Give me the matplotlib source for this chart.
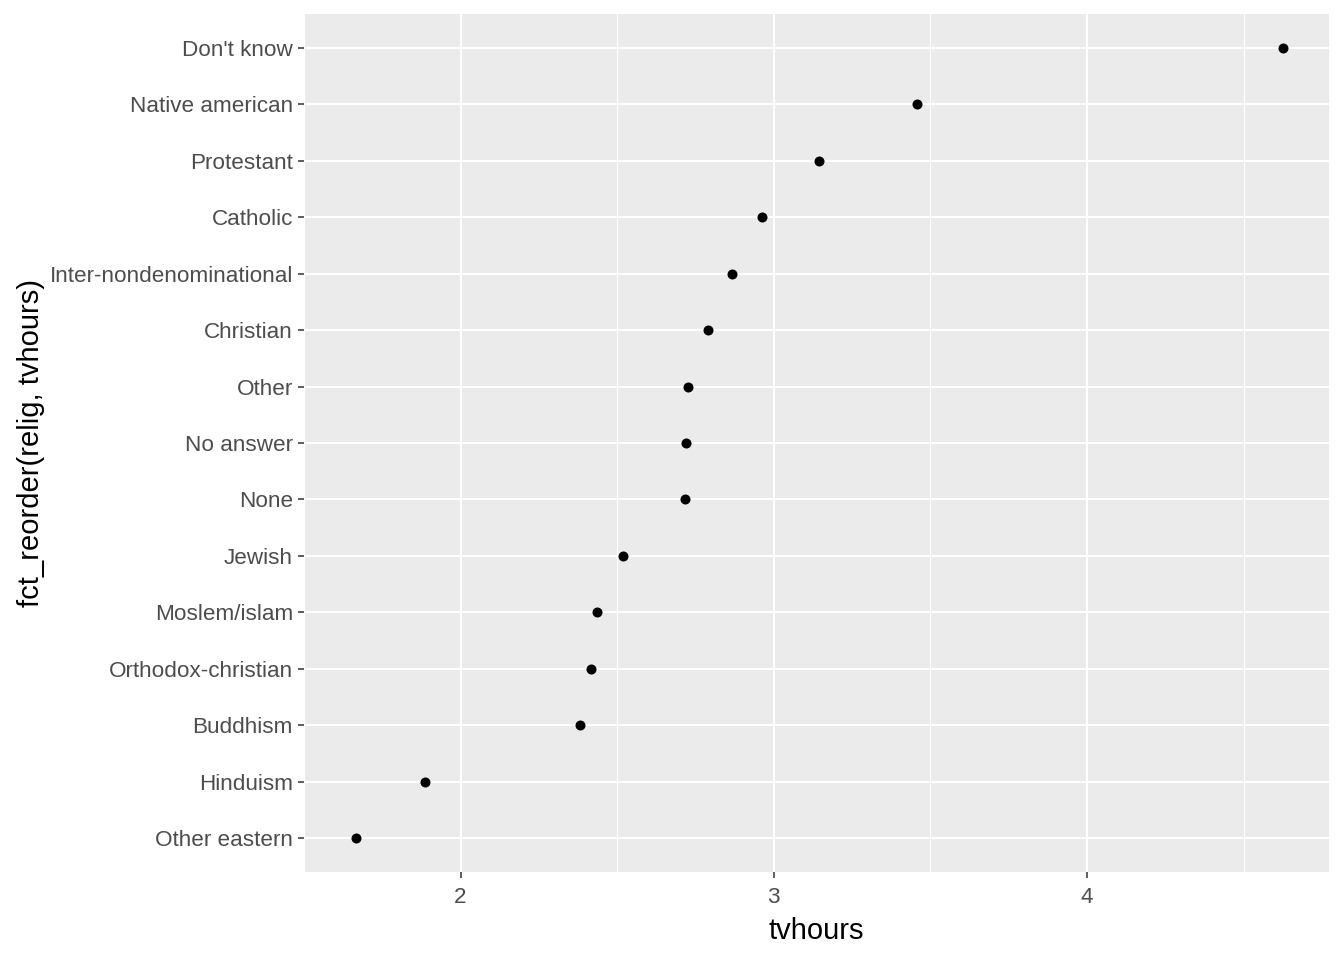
import matplotlib
matplotlib.use("Agg")
from matplotlib import pyplot as plt

# mean tv hours by religion, ordered low to high
relig = [
    "Other eastern", "Hinduism", "Buddhism", "Orthodox-christian",
    "Moslem/islam", "Jewish", "None", "No answer", "Other", "Christian",
    "Inter-nondenominational", "Catholic", "Protestant", "Native american",
    "Don't know",
]
tvhours = [
    1.667, 1.886, 2.381, 2.415, 2.436, 2.520, 2.715, 2.720, 2.727, 2.790,
    2.866, 2.961, 3.146, 3.458, 4.625,
]
x_ticks = [2, 3, 4]

plt.rcParams["font.family"] = ["Liberation Sans", "DejaVu Sans"]

fig = plt.figure(figsize=(13.44, 9.6), dpi=100)
ax = fig.add_axes([304 / 1344, 1 - 872 / 960, 1025 / 1344, 858 / 960])
ax.set_facecolor("#EBEBEB")

ypos = list(range(1, len(relig) + 1))
ax.scatter(tvhours, ypos, s=52, color="black", zorder=3, linewidths=0)

span = max(tvhours) - min(tvhours)
ax.set_xlim(min(tvhours) - 0.05 * span, max(tvhours) + 0.05 * span)
ax.set_ylim(0.4, len(relig) + 0.6)

ax.set_xticks(x_ticks)
ax.set_xticks([1.5, 2.5, 3.5, 4.5], minor=True)
ax.set_yticks(ypos)
ax.set_yticklabels(relig)

ax.grid(True, which="major", color="white", linewidth=1.5, zorder=0)
ax.grid(True, which="minor", axis="x", color="white", linewidth=0.75, zorder=0)
ax.set_axisbelow(True)

for s in ax.spines.values():
    s.set_visible(False)

ax.tick_params(axis="both", which="major", length=4.5, width=1.1,
               color="#333333", labelcolor="#4D4D4D", labelsize=16.2)
ax.tick_params(axis="x", which="major", pad=6.5)
ax.tick_params(axis="y", which="major", pad=3.5)
ax.tick_params(axis="both", which="minor", length=0)

ax.set_xlabel("tvhours", fontsize=21, color="black", labelpad=6)
ax.set_ylabel("fct_reorder(relig, tvhours)", fontsize=21, color="black",
              labelpad=3)

fig.savefig("out.png", dpi=100)
